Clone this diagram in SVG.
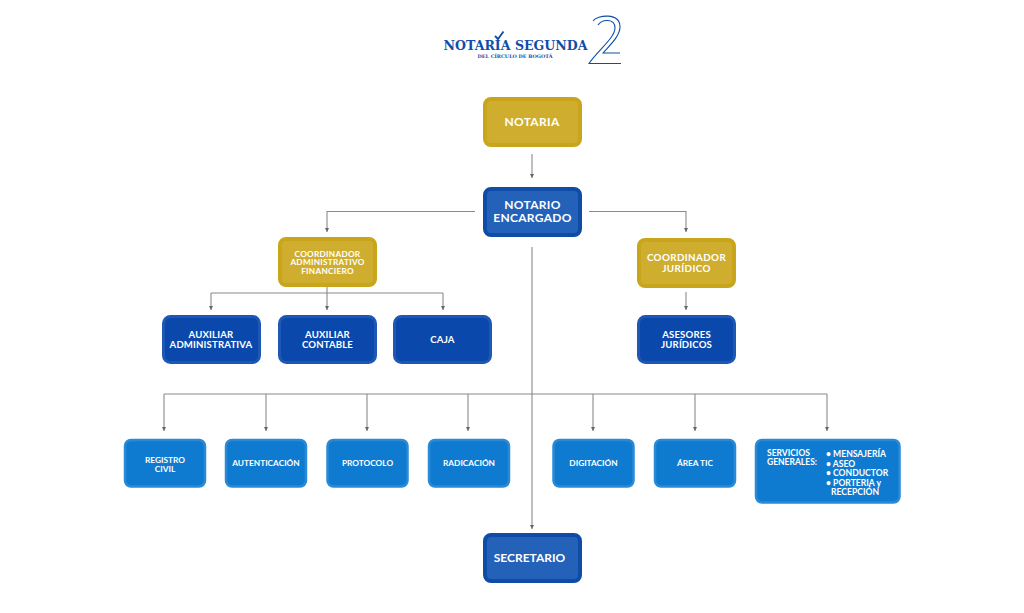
<svg xmlns="http://www.w3.org/2000/svg" width="1024" height="613" viewBox="0 0 1024 613">
<style>
.box{stroke-width:4}
.gold{fill:#cfae2f;stroke:#c8a51a}
.blue{fill:#2461b9;stroke:#0f4ca8}
.navy{fill:#0a48ab;stroke:#1f58b4;stroke-width:3}
.sky{fill:#0f7bd0;stroke:#2a8ad6;stroke-width:2.500}
text{font-family:"Lato","Liberation Sans",sans-serif;font-weight:700;fill:#fff;text-anchor:middle}
.l{font-size:12px;letter-spacing:.3px}.sec{font-size:12px}.m{font-size:9.600px;letter-spacing:.15px}.j{font-size:9.800px;letter-spacing:.4px}.s{font-size:8.300px}.a{font-size:8.200px;letter-spacing:.3px}.c{font-size:8.500px}.t{font-size:8.600px}
.st{text-anchor:start}
.logo{font-family:"DejaVu Serif","Liberation Serif",serif;fill:#0f4ea8}
.ink{fill:none;stroke:#0f4ea8}
#connectors path{fill:none;stroke:#8a8a8a;stroke-width:1.100;marker-end:url(#a)}
#connectors path.n{marker-end:none}
</style>
<defs><marker id="a" markerUnits="userSpaceOnUse" markerWidth="5" markerHeight="4" refX="4" refY="2" orient="auto"><path d="M0 0L4 2L0 4Z" fill="#666"/></marker></defs>
<g id="logo">
<text class="logo" x="515.500" y="49.500" font-size="13" textLength="144" lengthAdjust="spacingAndGlyphs">NOTARÍA SEGUNDA</text>
<text class="logo" x="515" y="58" font-size="4.800" textLength="75" lengthAdjust="spacingAndGlyphs">DEL CÍRCULO DE BOGOTÁ</text>
<path class="ink" d="M495 36L498 39L503.500 31.500" stroke-width="1.800"/>
<path class="ink" d="M593 21C597 15 620 12 620 27C620 36 610 45 603 53H620" stroke-width="1.100"/>
<path class="ink" d="M598 25C602 19 615 18 615 28C615 38 597 51 589 63.500H621" stroke-width="1.100"/>
</g>
<g id="connectors">
<path d="M532 154V178"/>
<path d="M475 211.500H327V232"/>
<path d="M589 211.500H686V232"/>
<path d="M532 247V529"/>
<path class="n" d="M164 394H827"/>
<path d="M164 394V431"/><path d="M266 394V431"/><path d="M367 394V431"/><path d="M468 394V431"/><path d="M593 394V431"/><path d="M695 394V431"/><path d="M827 394V431"/>
<path class="n" d="M211 293H443"/>
<path class="n" d="M327 287V293"/>
<path d="M211 293V310"/><path d="M327 293V310"/><path d="M443 293V310"/>
<path d="M686 292V310"/>
</g>
<g id="notaria"><rect class="box gold" x="485" y="99" width="95" height="46" rx="6"/><text class="l" x="532" y="126">NOTARIA</text></g>
<g id="notario"><rect class="box blue" x="485" y="189" width="95" height="46" rx="6"/><text class="l" x="532.500" y="208.500">NOTARIO</text><text class="l" x="532.500" y="221.500">ENCARGADO</text></g>
<g id="coord-admin"><rect class="box gold" x="280" y="239" width="95" height="46" rx="6"/><text class="a" x="327.500" y="256.500">COORDINADOR</text><text class="a" x="327.500" y="265">ADMINISTRATIVO</text><text class="a" x="327.500" y="273.500">FINANCIERO</text></g>
<g id="coord-juridico"><rect class="box gold" x="639" y="240" width="95" height="46" rx="6"/><text class="j" x="686.500" y="261">COORDINADOR</text><text class="j" x="686.500" y="272">JURÍDICO</text></g>
<g id="aux-admin"><rect class="box navy" x="163.500" y="316.500" width="96" height="46" rx="7"/><text class="m" x="211" y="337.500">AUXILIAR</text><text class="m" x="211" y="348">ADMINISTRATIVA</text></g>
<g id="aux-contable"><rect class="box navy" x="279.500" y="316.500" width="96" height="46" rx="7"/><text class="m" x="327.500" y="337.500">AUXILIAR</text><text class="m" x="327.500" y="348">CONTABLE</text></g>
<g id="caja"><rect class="box navy" x="394.500" y="316.500" width="96" height="46" rx="7"/><text class="m" x="442.500" y="343">CAJA</text></g>
<g id="asesores"><rect class="box navy" x="638.500" y="316.500" width="96" height="46" rx="7"/><text class="m" x="686.500" y="337.500">ASESORES</text><text class="m" x="686.500" y="348">JURÍDICOS</text></g>
<g id="registro"><rect class="box sky" x="125" y="440" width="80" height="46.500" rx="6"/><text class="s" x="165" y="463">REGISTRO</text><text class="s" x="165" y="471.500">CIVIL</text></g>
<g id="autenticacion"><rect class="box sky" x="226" y="440" width="80" height="46.500" rx="6"/><text class="s" x="266" y="466">AUTENTICACIÓN</text></g>
<g id="protocolo"><rect class="box sky" x="327.500" y="440" width="80" height="46.500" rx="6"/><text class="s" x="367.500" y="466">PROTOCOLO</text></g>
<g id="radicacion"><rect class="box sky" x="429" y="440" width="80" height="46.500" rx="6"/><text class="s" x="469" y="466">RADICACIÓN</text></g>
<g id="digitacion"><rect class="box sky" x="553.500" y="440" width="80" height="46.500" rx="6"/><text class="s" x="593.500" y="466">DIGITACIÓN</text></g>
<g id="area-tic"><rect class="box sky" x="655" y="440" width="80" height="46.500" rx="6"/><text class="s" x="695" y="466">ÁREA TIC</text></g>
<g id="servicios"><rect class="box sky" x="756" y="440" width="143.500" height="62.500" rx="6"/>
<text class="c st" x="767" y="456">SERVICIOS</text><text class="c st" x="767" y="464.500">GENERALES:</text>
<text class="t st" x="826" y="457">• MENSAJERÍA</text><text class="t st" x="826" y="466.500">• ASEO</text><text class="t st" x="826" y="476">• CONDUCTOR</text><text class="t st" x="826" y="485.500">• PORTERIA y</text><text class="t st" x="831" y="495">RECEPCIÓN</text></g>
<g id="secretario"><rect class="box blue" x="485" y="535" width="95" height="46" rx="6"/><text class="sec" x="529.500" y="562">SECRETARIO</text></g>
</svg>
